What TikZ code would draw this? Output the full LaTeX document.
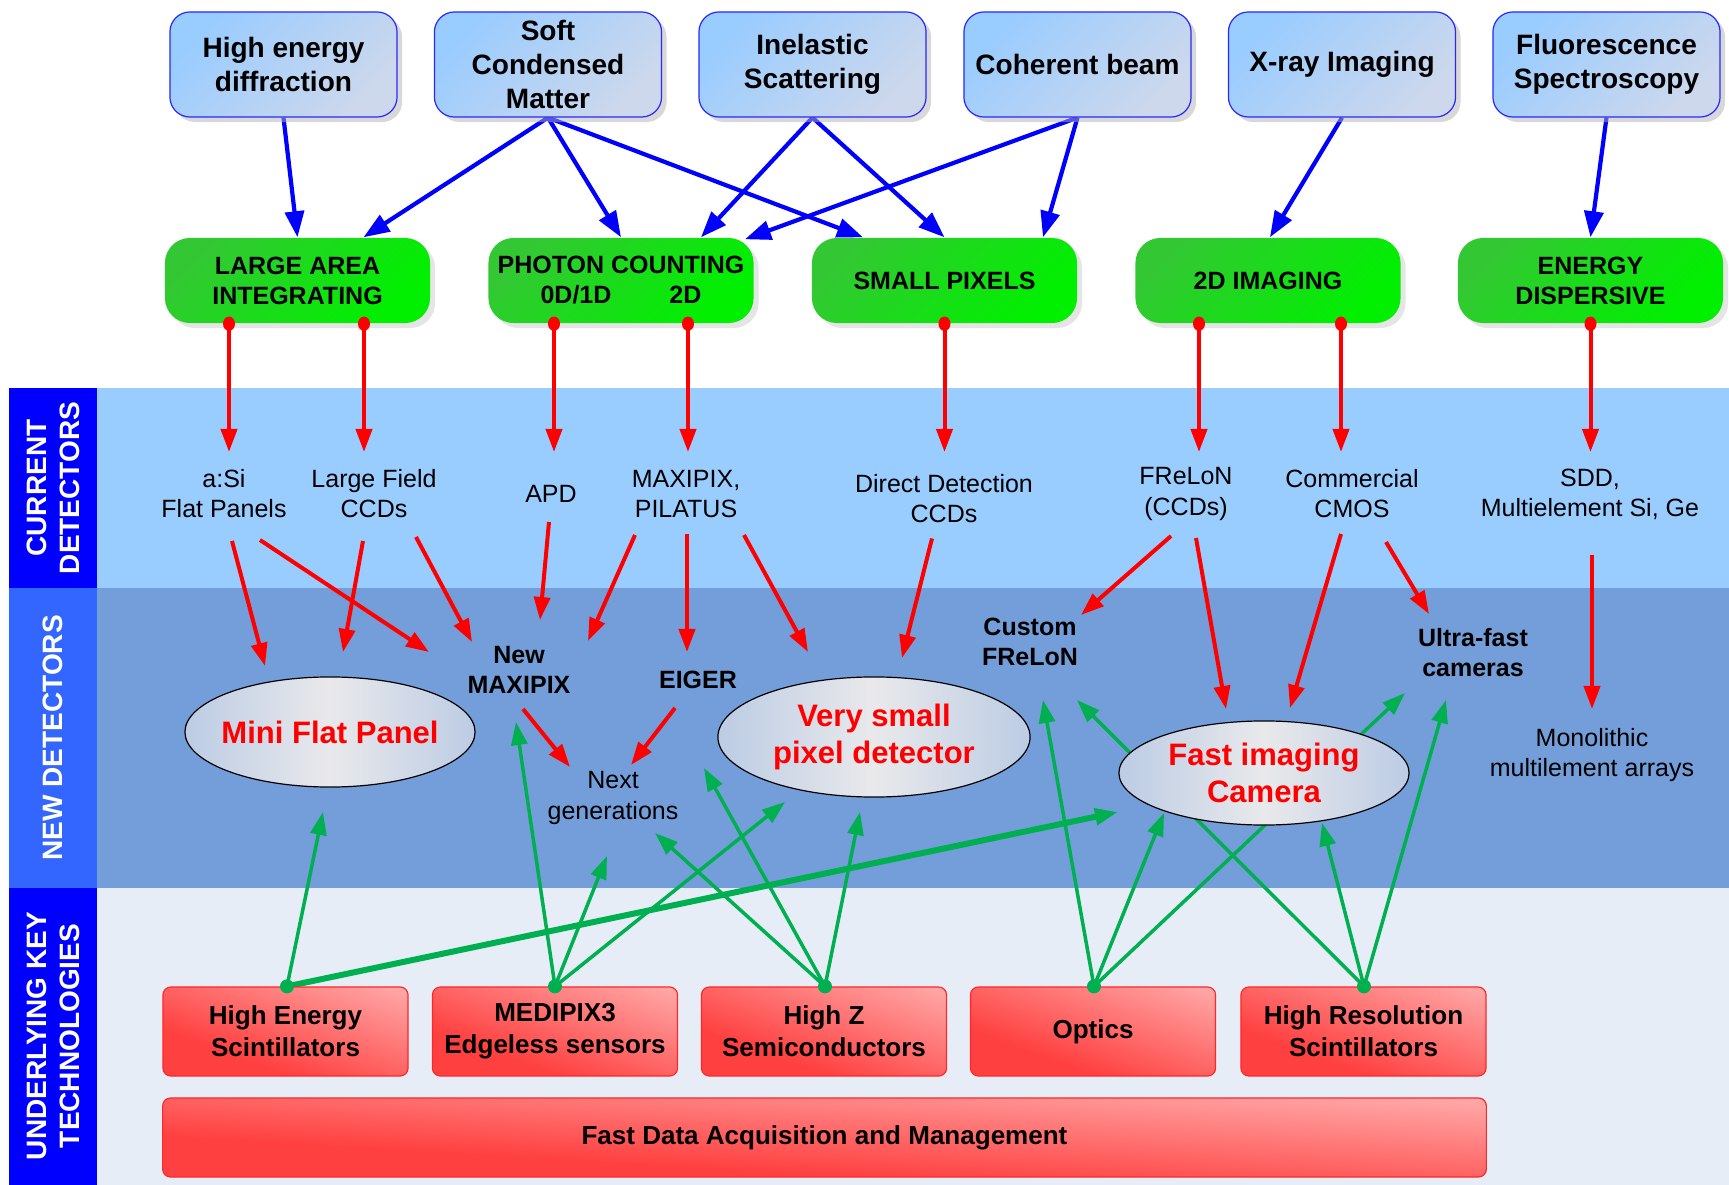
\documentclass[tikz,border=0pt]{standalone}
\usepackage{fontspec}
\setmainfont{Liberation Sans}
\usetikzlibrary{arrows.meta,shadows,calc,shapes.geometric}
\pgfdeclarelayer{back}
\pgfdeclarelayer{mid}
\pgfsetlayers{back,mid,main}
\definecolor{topA}{RGB}{153,204,255}
\definecolor{topB}{RGB}{205,216,236}
\definecolor{topBorder}{RGB}{40,40,255}
\definecolor{grnA}{RGB}{51,200,51}
\definecolor{grnB}{RGB}{0,240,0}
\definecolor{ellE}{RGB}{188,204,228}
\definecolor{ellM}{RGB}{233,233,235}
\definecolor{bandCur}{RGB}{153,204,255}
\definecolor{bandNew}{RGB}{115,158,217}
\definecolor{bandTech}{RGB}{230,237,247}
\definecolor{sideDark}{RGB}{0,0,255}
\definecolor{sideMid}{RGB}{51,102,255}
\definecolor{arrBlue}{RGB}{0,0,255}
\definecolor{arrRed}{RGB}{255,0,0}
\definecolor{boxRed}{RGB}{255,40,40}
\definecolor{arrGreen}{RGB}{0,176,80}
% red gradient: red at lower left, near white at upper right (box-normalised diagonal)
\pgfdeclarefunctionalshading{redgrad}{\pgfpoint{-50bp}{-50bp}}{\pgfpoint{50bp}{50bp}}{}{
  add 100 add 200 div 0.38 sub 0.62 div
  dup 0 lt {pop 0} if dup 1 gt {pop 1} if
  0.7 mul 0.25 add 1 exch dup
}
\begin{document}
\begin{tikzpicture}[x=0.01cm,y=-0.01cm,
  topbox/.style={draw=topBorder, line width=0.012cm, rounded corners=0.2cm,
    minimum width=2.27cm, minimum height=1.05cm, top color=topA, bottom color=topB,
    shading angle=45, drop shadow={shadow xshift=0.05cm, shadow yshift=-0.05cm, fill=black!30},
    align=center, inner sep=0pt, font=\fontsize{7.97}{9.67}\selectfont\bfseries},
  grnbox/.style={rounded corners=0.25cm, minimum width=2.65cm, minimum height=0.85cm,
    top color=grnA, bottom color=grnB, shading angle=45,
    drop shadow={shadow xshift=0.05cm, shadow yshift=-0.05cm, fill=black!20},
    align=center, inner sep=0pt, font=\fontsize{7.11}{8.54}\selectfont\bfseries},
  redbox/.style={draw=boxRed, line width=0.012cm, rounded corners=0.08cm,
    minimum width=2.45cm, minimum height=0.89cm, shade, shading=redgrad,
    align=center, inner sep=0pt,
    font=\fontsize{7.4}{9.1}\selectfont\bfseries},
  ellbox/.style={ellipse, draw=black, line width=0.012cm, left color=ellE, right color=ellE,
    middle color=ellM, align=center, inner sep=-0.12cm, text=arrRed,
    font=\fontsize{8.82}{10.67}\selectfont\bfseries},
  side/.style={rotate=90, text=white, align=center, inner sep=0pt,
    font=\fontsize{7.97}{9.4}\selectfont\bfseries},
  cur/.style={align=center, inner sep=0pt, font=\fontsize{7.11}{8.54}\selectfont},
  newb/.style={align=center, inner sep=0pt, font=\fontsize{7.11}{8.54}\selectfont\bfseries},
  barr/.style={draw=arrBlue, line width=0.042cm, -{Triangle[length=0.26cm,width=0.19cm]}},
  rarr/.style={draw=arrRed, line width=0.04cm, -{Triangle[length=0.23cm,width=0.16cm]}},
  garr/.style={draw=arrGreen, line width=0.035cm, -{Triangle[length=0.23cm,width=0.16cm]}},
  gthick/.style={garr, line width=0.06cm}
]
\useasboundingbox (0,0) rectangle (1729,1185);

% bands
\begin{pgfonlayer}{back}
\fill[white] (0,0) rectangle (1729,1185);
\fill[bandCur] (97,388) rectangle (1729,588);
\fill[bandNew] (97,588) rectangle (1729,888);
\fill[bandTech] (97,888) rectangle (1729,1185);
\fill[sideDark] (9,388) rectangle (97,588);
\fill[sideMid] (9,588) rectangle (97,888);
\fill[sideDark] (9,888) rectangle (97,1185);
\end{pgfonlayer}

\node[side] (s1) at (53,488) {CURRENT\\DETECTORS};
\node[side] (s2) at (53,738) {NEW DETECTORS};
\node[side] (s3) at (53,1036) {UNDERLYING KEY\\TECHNOLOGIES};

% top boxes
\node[topbox] (t1) at (283.5,64.5) {High energy\\diffraction};
\node[topbox] (t2) at (548,64.5) {Soft\\Condensed\\Matter};
\node[topbox] (t3) at (812.5,64.5) {Inelastic\\Scattering};
\node[topbox] (t4) at (1077.5,64.5) {Coherent beam};
\node[topbox] (t5) at (1342,64.5) {X-ray Imaging};
\node[topbox] (t6) at (1606.5,64.5) {Fluorescence\\Spectroscopy};

% green boxes
\node[grnbox] (g1) at (297.5,280.5) {LARGE AREA\\INTEGRATING};
\node[grnbox] (g2) at (621,280.5) {PHOTON COUNTING\\0D/1D\hspace{0.58cm}2D};
\node[grnbox] (g3) at (944.5,280.5) {SMALL PIXELS};
\node[grnbox] (g4) at (1268,280.5) {2D IMAGING};
\node[grnbox] (g5) at (1590.5,280.5) {ENERGY\\DISPERSIVE};

% current detectors
\node[cur] (asi) at (224,494) {a:Si\\Flat Panels};
\node[cur] (lfc) at (374,494) {Large Field\\CCDs};
\node[cur] (apd) at (551,494) {APD};
\node[cur] (mpx) at (686,494) {MAXIPIX,\\PILATUS};
\node[cur] (ddc) at (944,498.5) {Direct Detection\\CCDs};
\node[cur] (frl) at (1186,494) {FReLoN\\(CCDs)};
\node[cur] (cmos) at (1352,494) {Commercial\\CMOS};
\node[cur] (sdd) at (1590,494) {SDD,\\Multielement Si, Ge};

% new detectors
\node[newb] (nmpx) at (519,670) {New\\MAXIPIX};
\node[newb] (eiger) at (698,680) {EIGER};
\node[newb] (cfrl) at (1030,642) {Custom\\FReLoN};
\node[newb] (ufc) at (1473,653) {Ultra-fast\\cameras};
\node[cur] (mono) at (1592,755) {Monolithic\\multilement arrays};
\node[cur] (nextg) at (613,798) {Next\\generations};
\node[ellbox, minimum width=2.9cm, minimum height=1.1cm] (mfp) at (330,732) {Mini Flat Panel};
\node[ellbox, minimum width=3.12cm, minimum height=1.2cm] (vsp) at (874,737) {Very small\\pixel detector};
\node[ellbox, minimum width=2.9cm, minimum height=1.04cm] (fic) at (1264,773) {Fast imaging\\Camera};

% technologies
\node[redbox] (rb1) at (285.5,1031.5) {High Energy\\Scintillators};
\node[redbox] (rb2) at (555,1031.5) {MEDIPIX3\\Edgeless sensors};
\node[redbox] (rb3) at (824,1031.5) {High Z\\Semiconductors};
\node[redbox] (rb4) at (1093,1031.5) {Optics};
\node[redbox] (rb5) at (1363.5,1031.5) {High Resolution\\Scintillators};
\node[redbox, minimum width=13.23cm, minimum height=0.79cm] (fdaq) at (824.5,1137.5) {Fast Data Acquisition and Management};

% anchor coordinates
\coordinate (r1) at ([shift={(-68.5,0)}]g1.south);
\coordinate (r2) at ([shift={(66.5,0)}]g1.south);
\coordinate (r3) at ([shift={(-67,0)}]g2.south);
\coordinate (r4) at ([shift={(67,0)}]g2.south);
\coordinate (r5) at (g3.south);
\coordinate (r6) at ([shift={(-69,0)}]g4.south);
\coordinate (r7) at ([shift={(73,0)}]g4.south);
\coordinate (r8) at (g5.south);
\coordinate (q1) at ([shift={(1.5,0)}]rb1.north);
\coordinate (q2) at (rb2.north);
\coordinate (q3) at ([shift={(1,0)}]rb3.north);
\coordinate (q4) at ([shift={(1,0)}]rb4.north);
\coordinate (q5) at ([shift={(0.5,0)}]rb5.north);

\begin{pgfonlayer}{mid}
% blue
\draw[barr] (t1.south) -- (g1.north);
\draw[barr] (t2.south) -- ([shift={(66,0)}]g1.north);
\draw[barr] (t2.south) -- (g2.north);
\draw[barr] (t2.south) -- ([shift={(-81.5,0)}]g3.north);
\draw[barr] (t3.south) -- ([shift={(80,0)}]g2.north);
\draw[barr] (t3.south) -- (g3.north);
\draw[barr] (t4.south) -- ([shift={(124,2)}]g2.north);
\draw[barr] (t4.south) -- ([shift={(98.5,0)}]g3.north);
\draw[barr] (t5.south) -- ([shift={(2,0)}]g4.north);
\draw[barr] (t6.south) -- (g5.north);
% red from green boxes
\draw[rarr] (r1) -- ($(r1 |- asi.center)+(0,-42)$);
\draw[rarr] (r2) -- ($(r2 |- lfc.center)+(0,-42)$);
\draw[rarr] (r3) -- ($(r3 |- apd.center)+(0,-42)$);
\draw[rarr] (r4) -- ($(r4 |- mpx.center)+(0,-42)$);
\draw[rarr] (r5) -- ($(r5 |- ddc.center)+(0,-46.5)$);
\draw[rarr] (r6) -- ($(r6 |- frl.center)+(0,-42)$);
\draw[rarr] (r7) -- ($(r7 |- cmos.center)+(0,-42)$);
\draw[rarr] (r8) -- ($(r8 |- sdd.center)+(0,-42)$);
% red current -> new
\draw[rarr] ([shift={(8,47)}]asi.center) -- ([shift={(-65,-66)}]mfp.center);
\draw[rarr] ([shift={(36,46)}]asi.center) -- ([shift={(-90,-18)}]nmpx.center);
\draw[rarr] ([shift={(-11,47)}]lfc.center) -- ([shift={(13,-80)}]mfp.center);
\draw[rarr] ([shift={(42,43)}]lfc.center) -- ([shift={(-47,-28)}]nmpx.center);
\draw[rarr] ([shift={(-2,28)}]apd.center) -- ([shift={(21,-50)}]nmpx.center);
\draw[rarr] ([shift={(-51,41)}]mpx.center) -- ([shift={(69,-29)}]nmpx.center);
\draw[rarr] ([shift={(1,40)}]mpx.center) -- ([shift={(-11,-28)}]eiger.center);
\draw[rarr] ([shift={(58,41)}]mpx.center) -- ([shift={(-66,-85)}]vsp.center);
\draw[rarr] ([shift={(-12,40)}]ddc.center) -- ([shift={(28,-79)}]vsp.center);
\draw[rarr] ([shift={(-15,42)}]frl.center) -- ([shift={(51,-27)}]cfrl.center);
\draw[rarr] ([shift={(10,44)}]frl.center) -- ([shift={(-38,-64)}]fic.center);
\draw[rarr] ([shift={(-11,40)}]cmos.center) -- ([shift={(26,-65)}]fic.center);
\draw[rarr] ([shift={(34,48)}]cmos.center) -- ([shift={(-44,-39)}]ufc.center);
\draw[rarr] ([shift={(2,61)}]sdd.center) -- ([shift={(0,-46)}]mono.center);
\draw[rarr] ([shift={(4,39)}]nmpx.center) -- ([shift={(-43,-31)}]nextg.center);
\draw[rarr] ([shift={(-23,28)}]eiger.center) -- ([shift={(18,-33)}]nextg.center);
% green
\draw[garr] (q1) -- ([shift={(-7,80)}]mfp.center);
\draw[gthick] (q1) -- ([shift={(-146,39)}]fic.center);
\draw[garr] (q2) -- ([shift={(-3,52)}]nmpx.center);
\draw[garr] (q2) -- ([shift={(-6,58)}]nextg.center);
\draw[garr] (q2) -- ([shift={(-89,65)}]vsp.center);
\draw[garr] (q3) -- ([shift={(42,35)}]nextg.center);
\draw[garr] (q3) -- ([shift={(6,88)}]eiger.center);
\draw[garr] (q3) -- ([shift={(-14,75)}]vsp.center);
\draw[garr] (q4) -- ([shift={(13,58)}]cfrl.center);
\draw[garr] (q4) -- ([shift={(-100,40)}]fic.center);
\draw[garr] (q4) -- ([shift={(-68,40)}]ufc.center);
\draw[garr] (q5) -- ([shift={(47,58)}]cfrl.center);
\draw[garr] (q5) -- ([shift={(58,50)}]fic.center);
\draw[garr] (q5) -- ([shift={(-27,47)}]ufc.center);
\end{pgfonlayer}

% dots
\foreach \p in {r1,r2,r3,r4,r5,r6,r7,r8}
  \fill[arrRed] (\p) ellipse [x radius=0.06cm, y radius=0.072cm];
\foreach \p in {q1,q2,q3,q4,q5}
  \fill[arrGreen] (\p) circle [radius=0.07cm];
\end{tikzpicture}
\end{document}
